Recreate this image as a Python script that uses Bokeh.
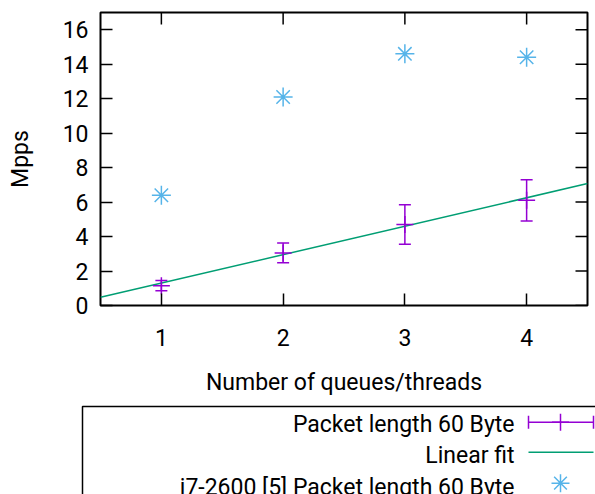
from bokeh.plotting import figure
from bokeh.models import (Range1d, FixedTicker, Whisker, TeeHead, ColumnDataSource)
from bokeh.layouts import column, row
from bokeh.embed import file_html
from bokeh.resources import INLINE
from bokeh.core.properties import value

# ---- data ----
queues = [1, 2, 3, 4]
mpps_60 = [1.15, 3.05, 4.7, 6.1]
mpps_60_err = [0.3, 0.57, 1.15, 1.2]
i7_2600_mpps = [6.4, 12.1, 14.6, 14.4]
fit_slope = 1.65
fit_intercept = -0.35
x_ticks = [1, 2, 3, 4]
y_ticks = [0, 2, 4, 6, 8, 10, 12, 14, 16]
legend_labels = ["Packet length 60 Byte", "Linear fit", "i7-2600 [5] Packet length 60 Byte"]

PURPLE = "#9400D3"
GREEN = "#009E73"
BLUE = "#56B4E9"
FONT = "Roboto"
FS = "23px"
W = 595
H_MAIN = 400
H_LEG = 94
B_LEFT, B_RIGHT, B_TOP, B_BOTTOM = 100, 8, 12, 95
TICK = 12

x_rng = Range1d(0.5, 4.5)
y_rng = Range1d(0, 17)

p = figure(width=W, height=H_MAIN, x_range=x_rng, y_range=y_rng,
           output_backend="svg", toolbar_location=None,
           min_border_left=B_LEFT, min_border_right=B_RIGHT,
           min_border_top=B_TOP, min_border_bottom=B_BOTTOM)
p.xgrid.visible = False
p.ygrid.visible = False
p.outline_line_color = "black"
p.outline_line_width = 2
p.outline_line_alpha = 1.0
p.background_fill_color = "white"
p.border_fill_color = "white"

for ax, ticks in ((p.xaxis[0], x_ticks), (p.yaxis[0], y_ticks)):
    ax.ticker = FixedTicker(ticks=ticks)
    ax.axis_line_color = None
    ax.major_tick_in = TICK
    ax.major_tick_out = 0
    ax.major_tick_line_color = "black"
    ax.major_tick_line_width = 1.5
    ax.minor_tick_line_color = None
    ax.major_label_text_font = FONT
    ax.major_label_text_font_size = FS
    ax.major_label_text_color = "black"
    ax.axis_label_text_font = FONT
    ax.axis_label_text_font_size = FS
    ax.axis_label_text_font_style = "normal"
    ax.axis_label_text_color = "black"

p.xaxis[0].major_label_standoff = 23
p.xaxis[0].axis_label = "Number of queues/threads"
p.xaxis[0].axis_label_standoff = 20
p.yaxis[0].major_label_standoff = 12
p.yaxis[0].axis_label = "Mpps"
p.yaxis[0].axis_label_standoff = 26

# mirrored inward ticks on the top and right borders
frame_w = W - B_LEFT - B_RIGHT
frame_h = H_MAIN - B_TOP - B_BOTTOM
dx = TICK * (x_rng.end - x_rng.start) / frame_w
dy = TICK * (y_rng.end - y_rng.start) / frame_h
p.segment(x0=x_ticks, x1=x_ticks, y0=[y_rng.end - dy] * len(x_ticks), y1=[y_rng.end] * len(x_ticks),
          line_color="black", line_width=1.5)
p.segment(x0=[x_rng.end - dx] * len(y_ticks), x1=[x_rng.end] * len(y_ticks), y0=y_ticks, y1=y_ticks,
          line_color="black", line_width=1.5)

# linear fit
fx = [x_rng.start, x_rng.end]
fy = [fit_slope * v + fit_intercept for v in fx]
p.line(fx, fy, line_color=GREEN, line_width=1.5)

# error bars
src = ColumnDataSource(dict(
    x=queues, y=mpps_60,
    upper=[a + b for a, b in zip(mpps_60, mpps_60_err)],
    lower=[a - b for a, b in zip(mpps_60, mpps_60_err)]))
wh = Whisker(base="x", upper="upper", lower="lower", source=src,
             line_color=PURPLE, line_width=1.5,
             upper_head=TeeHead(size=12, line_color=PURPLE, line_width=1.5),
             lower_head=TeeHead(size=12, line_color=PURPLE, line_width=1.5))
p.add_layout(wh)
p.scatter("x", "y", source=src, marker="cross", size=17, line_color=PURPLE, line_width=1.5)

# i7-2600 points
p.scatter(queues, i7_2600_mpps, marker="asterisk", size=19, line_color=BLUE, line_width=1.5)

# ---- legend panel (drawn in pixel coordinates, gnuplot style: text then sample) ----
lg = figure(width=W, height=H_LEG, x_range=Range1d(0, W), y_range=Range1d(0, H_LEG),
            output_backend="svg", toolbar_location=None,
            x_axis_type=None, y_axis_type=None,
            min_border_left=0, min_border_right=0, min_border_top=0, min_border_bottom=0)
lg.xgrid.visible = False
lg.ygrid.visible = False
lg.outline_line_color = None
lg.background_fill_color = "white"
lg.border_fill_color = "white"
for fig in (p, lg):
    try:
        fig.frame_align = False
    except AttributeError:
        pass

box_l, box_t = 82, 88
lg.line([box_l, box_l, W + 20], [-20, box_t, box_t], line_color="black", line_width=1.5)

text_x = 514
rows_base = [70.3, 38.7, 7.2]
rows_mid = [72.3, 42.3, 11.3]
lg.text(x=[text_x] * 3, y=rows_base, text=legend_labels,
        text_font=value(FONT), text_font_size=value(FS), text_align="right",
        text_baseline="alphabetic", text_color="black")

s0, s1, sc = 528, 593, 560
# errorbar sample
lg.line([s0, s1], [rows_mid[0]] * 2, line_color=PURPLE, line_width=1.5)
lg.segment(x0=[s0, s1], y0=[rows_mid[0] - 6.5] * 2, x1=[s0, s1], y1=[rows_mid[0] + 6.5] * 2,
           line_color=PURPLE, line_width=1.5)
lg.scatter([sc], [rows_mid[0]], marker="cross", size=17, line_color=PURPLE, line_width=1.5)
# fit sample
lg.line([s0, s1], [rows_mid[1]] * 2, line_color=GREEN, line_width=1.5)
# star sample
lg.scatter([sc], [rows_mid[2]], marker="asterisk", size=18, line_color=BLUE, line_width=1.5)

layout = column(p, row(lg, spacing=0), spacing=0)
open("out.html", "w").write(file_html(layout, INLINE))
